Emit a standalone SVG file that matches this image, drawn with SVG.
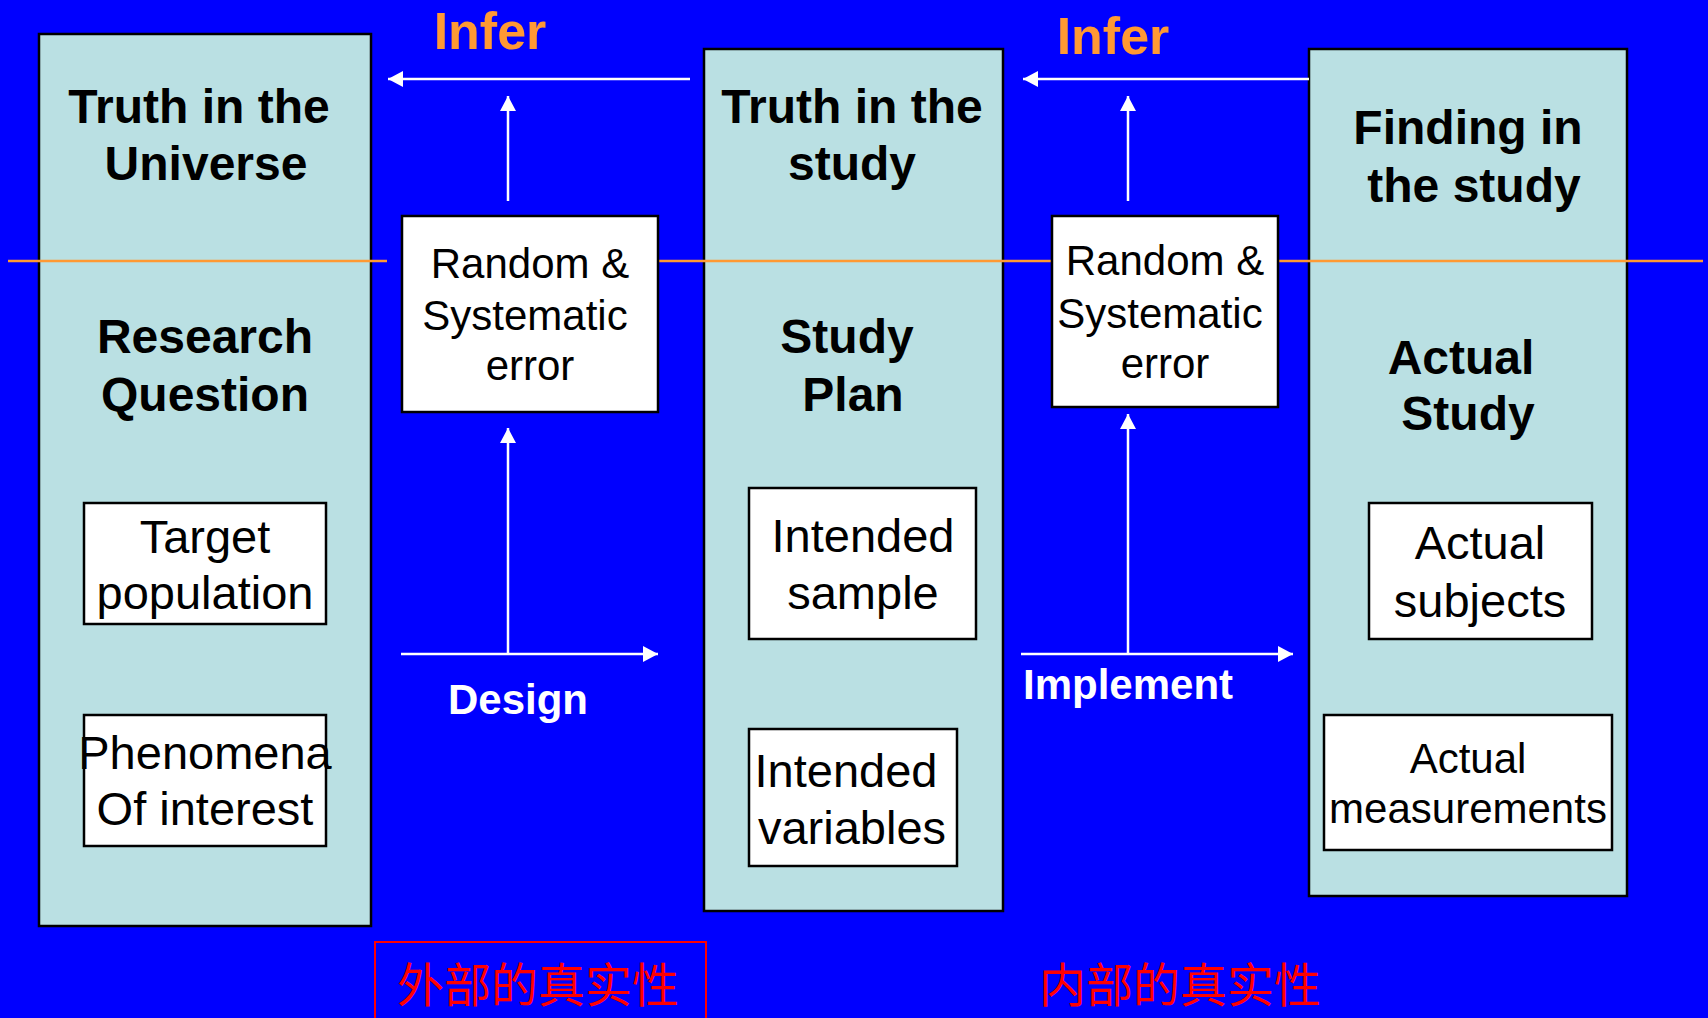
<svg xmlns="http://www.w3.org/2000/svg" width="1708" height="1018" viewBox="0 0 1708 1018">
<style>
.col{fill:#BAE0E3;stroke:#000;stroke-width:2.5}
.box{fill:#fff;stroke:#000;stroke-width:2.5}
.hd{font-family:"Liberation Sans",Arial,sans-serif;font-weight:bold;font-size:48px;fill:#000;text-anchor:middle}
.tx{font-family:"Liberation Sans",Arial,sans-serif;font-size:47px;fill:#000;text-anchor:middle}
.rs{font-family:"Liberation Sans",Arial,sans-serif;font-size:42px;fill:#000;text-anchor:middle}
.lbl{font-family:"Liberation Sans",Arial,sans-serif;font-weight:bold;font-size:42px;fill:#fff}
.inf{font-family:"Liberation Sans",Arial,sans-serif;font-weight:bold;font-size:52px;fill:#FF9933;text-anchor:middle}
.cn{font-family:"Noto Sans CJK SC",sans-serif;font-size:47px;fill:#FF0000}
.arr{stroke:#fff;stroke-width:2.5;fill:none}
.orl{stroke:#FF9933;stroke-width:2.5}
</style>
<defs>
<marker id="ah" markerUnits="userSpaceOnUse" markerWidth="16" markerHeight="16" refX="15" refY="8" orient="auto">
<path d="M0,0 L15,8 L0,16 z" fill="#fff"/>
</marker>
</defs>
<rect width="1708" height="1018" fill="#0000FF"/>
<g id="col-universe">
<rect class="col" x="39" y="34" width="332" height="892"/>
</g>
<g id="col-study">
<rect class="col" x="704" y="49" width="299" height="862"/>
</g>
<g id="col-finding">
<rect class="col" x="1309" y="49" width="318" height="847"/>
</g>
<g id="divider">
<line class="orl" x1="8" y1="261" x2="387" y2="261"/>
<line class="orl" x1="500" y1="261" x2="1703" y2="261"/>
</g>
<g id="col-universe-text">
<text class="hd" x="199" y="123">Truth in the</text>
<text class="hd" x="206" y="180">Universe</text>
<text class="hd" x="205" y="353">Research</text>
<text class="hd" x="205" y="411">Question</text>
</g>
<g id="col-study-text">
<text class="hd" x="852" y="123">Truth in the</text>
<text class="hd" x="852" y="180">study</text>
<text class="hd" x="847" y="353">Study</text>
<text class="hd" x="853" y="411">Plan</text>
</g>
<g id="col-finding-text">
<text class="hd" x="1468" y="144">Finding in</text>
<text class="hd" x="1474" y="202">the study</text>
<text class="hd" x="1461" y="374">Actual</text>
<text class="hd" x="1468" y="430">Study</text>
</g>
<g id="target-population">
<rect class="box" x="84" y="503" width="242" height="121"/>
<text class="tx" x="205" y="553">Target</text>
<text class="tx" x="205" y="609">population</text>
</g>
<g id="phenomena">
<rect class="box" x="84" y="715" width="242" height="131"/>
<text class="tx" x="205" y="769">Phenomena</text>
<text class="tx" x="205" y="825">Of interest</text>
</g>
<g id="intended-sample">
<rect class="box" x="749" y="488" width="227" height="151"/>
<text class="tx" x="863" y="552">Intended</text>
<text class="tx" x="863" y="609">sample</text>
</g>
<g id="intended-variables">
<rect class="box" x="749" y="729" width="208" height="137"/>
<text class="tx" x="846" y="787">Intended</text>
<text class="tx" x="852" y="844">variables</text>
</g>
<g id="actual-subjects">
<rect class="box" x="1369" y="503" width="223" height="136"/>
<text class="tx" x="1480" y="559">Actual</text>
<text class="tx" x="1480" y="617">subjects</text>
</g>
<g id="actual-measurements">
<rect class="box" x="1324" y="715" width="288" height="135"/>
<text class="rs" x="1468" y="773">Actual</text>
<text class="rs" x="1468" y="823">measurements</text>
</g>
<g id="error-1">
<rect class="box" x="402" y="216" width="256" height="196"/>
<text class="rs" x="530" y="278">Random &amp;</text>
<text class="rs" x="525" y="330">Systematic</text>
<text class="rs" x="530" y="380">error</text>
</g>
<g id="error-2">
<rect class="box" x="1052" y="216" width="226" height="191"/>
<text class="rs" x="1165" y="275">Random &amp;</text>
<text class="rs" x="1160" y="328">Systematic</text>
<text class="rs" x="1165" y="378">error</text>
</g>
<g id="connectors">
<line class="arr" x1="690" y1="79" x2="388" y2="79" marker-end="url(#ah)"/>
<line class="arr" x1="1309" y1="79" x2="1023" y2="79" marker-end="url(#ah)"/>
<line class="arr" x1="508" y1="201" x2="508" y2="96" marker-end="url(#ah)"/>
<line class="arr" x1="1128" y1="201" x2="1128" y2="96" marker-end="url(#ah)"/>
<line class="arr" x1="508" y1="654" x2="508" y2="428" marker-end="url(#ah)"/>
<line class="arr" x1="1128" y1="654" x2="1128" y2="414" marker-end="url(#ah)"/>
<line class="arr" x1="401" y1="654" x2="658" y2="654" marker-end="url(#ah)"/>
<line class="arr" x1="1021" y1="654" x2="1293" y2="654" marker-end="url(#ah)"/>
</g>
<g id="labels">
<text class="inf" x="490" y="49">Infer</text>
<text class="inf" x="1113" y="54">Infer</text>
<text class="lbl" x="518" y="714" text-anchor="middle">Design</text>
<text class="lbl" x="1023" y="699">Implement</text>
</g>
<g id="external-validity">
<rect x="375" y="942" width="331" height="90" fill="none" stroke="#FF0000" stroke-width="2"/>
<text class="cn" x="397" y="1002">外部的真实性</text>
</g>
<g id="internal-validity">
<text class="cn" x="1039" y="1002">内部的真实性</text>
</g>
</svg>
